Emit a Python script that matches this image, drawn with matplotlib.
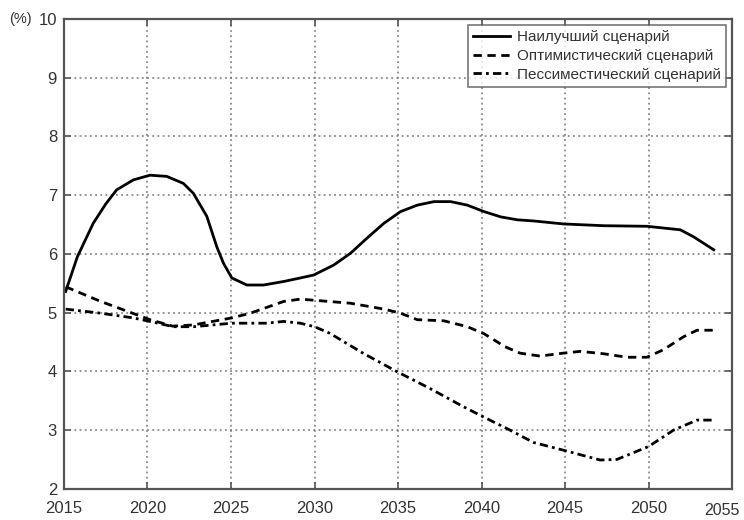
import matplotlib
matplotlib.use('Agg')
import matplotlib.pyplot as plt

plt.rcParams['font.family'] = ['Liberation Sans', 'DejaVu Sans']

# Наилучший сценарий
best_x = [2015.1, 2015.8, 2016.75, 2017.5, 2018.15, 2019.15, 2020.15, 2021.15, 2022.15, 2022.75,
          2023.55, 2024.15, 2024.55, 2025.05, 2025.95, 2026.95, 2028.15, 2029.15, 2029.95, 2031.15,
          2032.15, 2033.15, 2034.15, 2035.15, 2036.15, 2037.15, 2038.15, 2039.15, 2040.15, 2041.15,
          2042.15, 2043.15, 2044.9, 2047.3, 2049.9, 2051.9, 2052.7, 2053.9]
best_y = [5.36, 5.95, 6.52, 6.85, 7.09, 7.26, 7.34, 7.32, 7.20, 7.03,
          6.64, 6.12, 5.84, 5.59, 5.47, 5.47, 5.53, 5.59, 5.64, 5.81,
          6.01, 6.27, 6.52, 6.72, 6.83, 6.89, 6.89, 6.83, 6.72, 6.63,
          6.58, 6.56, 6.51, 6.48, 6.47, 6.41, 6.29, 6.07]

# Оптимистический сценарий
opt_x = [2015.1, 2017.2, 2020.15, 2021.5, 2022.75, 2025.05, 2026.15, 2028.15, 2029.15, 2030.0,
         2032.15, 2034.15, 2035.15, 2036.15, 2037.75, 2039.15, 2040.15, 2041.4, 2042.3, 2043.5,
         2044.9, 2045.9, 2047.3, 2048.7, 2049.9, 2050.9, 2052.1, 2052.9, 2053.9]
opt_y = [5.44, 5.19, 4.88, 4.77, 4.79, 4.91, 4.99, 5.19, 5.23, 5.21,
         5.16, 5.06, 4.99, 4.88, 4.86, 4.76, 4.64, 4.42, 4.31, 4.26,
         4.31, 4.34, 4.30, 4.24, 4.24, 4.37, 4.59, 4.70, 4.70]

# Пессимистический сценарий
pes_x = [2015.1, 2017.2, 2019.15, 2020.15, 2021.55, 2022.75, 2025.05, 2027.15, 2028.15, 2029.15,
         2030.0, 2030.9, 2032.9, 2034.9, 2036.9, 2038.9, 2040.0, 2041.7, 2043.1, 2045.0,
         2047.1, 2048.1, 2050.0, 2051.5, 2052.9, 2053.9]
pes_y = [5.06, 4.99, 4.91, 4.85, 4.76, 4.76, 4.82, 4.82, 4.85, 4.82,
         4.76, 4.65, 4.31, 4.00, 3.71, 3.40, 3.24, 3.00, 2.79, 2.65,
         2.49, 2.50, 2.72, 3.00, 3.17, 3.17]

xticks = [2015, 2020, 2025, 2030, 2035, 2040, 2045, 2050, 2055]
yticks = [2, 3, 4, 5, 6, 7, 8, 9, 10]

fig = plt.figure(figsize=(7.44, 5.2), dpi=100)
ax = fig.add_axes([0.086, 0.06, 0.898, 0.9035])

ax.plot(best_x, best_y, '-', color='black', lw=2, label='Наилучший сценарий')
ax.plot(opt_x, opt_y, '--', color='black', lw=2, dashes=(3, 2), label='Оптимистический сценарий')
ax.plot(pes_x, pes_y, '-.', color='black', lw=2, dashes=(3, 1.5, 1, 1.5), label='Пессиместический сценарий')

ax.set_xlim(2015, 2055)
ax.set_ylim(2, 10)
ax.set_xticks(xticks)
ax.set_yticks(yticks)
# last label sits a bit lower and to the left, as in the original
ax.set_xticklabels([str(t) for t in xticks[:-1]] + [''])
ax.annotate('2055', xy=(2054.4, 0), xycoords=('data', 'axes fraction'),
            xytext=(0, -10.5), textcoords='offset points', ha='center', va='top',
            fontsize=11.5, color='#333333')

ax.grid(True, linestyle=(0, (1.2, 2.2)), color='#777777', lw=1.1)
ax.tick_params(direction='in', length=5, width=1.2, color='#555555',
               top=True, right=True, labelsize=12, labelcolor='#333333')
ax.tick_params(axis='x', pad=9)
ax.tick_params(axis='y', pad=5)
for s in ax.spines.values():
    s.set_color('#555555')
    s.set_linewidth(1.6)

fig.text(0.012, 0.963, '(%)', fontsize=10.5, color='#333333', va='center')

leg = ax.legend(loc='upper right', fontsize=11, frameon=True, fancybox=False,
                edgecolor='#555555', handlelength=2.4, borderpad=0.35, labelspacing=0.3,
                handletextpad=0.45, borderaxespad=0.4)
leg.get_frame().set_linewidth(1.2)
for t in leg.get_texts():
    t.set_color('#333333')

fig.savefig('out.png', dpi=100, facecolor='white')
